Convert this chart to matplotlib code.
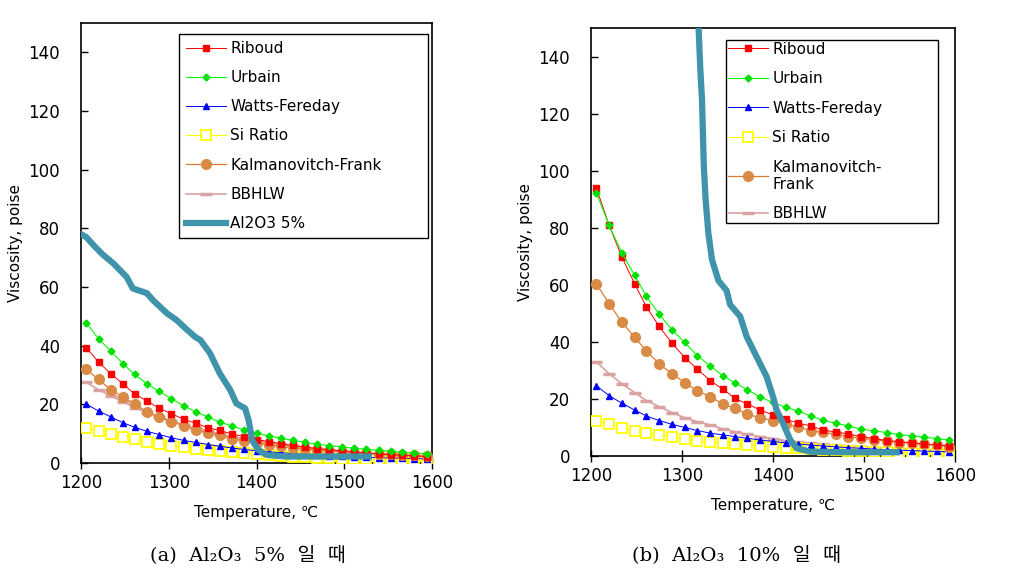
import numpy as np
import matplotlib
matplotlib.use('Agg')
from matplotlib import pyplot as plt

# temperatures of the model curves (deg C)
temps = [1206, 1220, 1234, 1248, 1261, 1275, 1289, 1303, 1317, 1331, 1345, 1358, 1372, 1386, 1400,
         1414, 1428, 1442, 1455, 1469, 1483, 1497, 1511, 1525, 1539, 1553, 1566, 1580, 1594]

# (a) Al2O3 5%
riboud_a = [39.3, 34.4, 30.4, 26.9, 23.5, 21.2, 18.7, 16.8, 14.9, 13.5, 12.0, 11.1, 9.9, 9.0, 8.0,
            7.3, 6.6, 6.0, 5.4, 4.9, 4.5, 4.1, 3.7, 3.4, 3.1, 2.8, 2.6, 2.4, 2.2]
urbain_a = [47.8, 42.3, 38.1, 33.8, 30.2, 27.0, 24.4, 21.9, 19.5, 17.4, 15.6, 14.0, 12.6, 11.3, 10.2,
            9.2, 8.4, 7.7, 7.0, 6.4, 5.9, 5.5, 5.0, 4.7, 4.3, 4.0, 3.7, 3.4, 3.1]
watts_a = [20.1, 17.7, 15.7, 13.7, 12.2, 10.8, 9.7, 8.6, 7.7, 7.0, 6.3, 5.7, 5.1, 4.6, 4.2,
           3.8, 3.5, 3.2, 2.9, 2.7, 2.5, 2.3, 2.1, 1.9, 1.8, 1.7, 1.6, 1.5, 1.4]
si_a = [12.0, 10.9, 9.9, 9.0, 8.1, 7.2, 6.5, 5.9, 5.3, 4.9, 4.4, 4.0, 3.6, 3.3, 3.0,
        2.7, 2.5, 2.2, 2.0, 1.8, 1.6, 1.5, 1.3, 1.2, 1.1, 1.0, 0.9, 0.8, 0.7]
kalman_a = [31.9, 28.5, 24.9, 22.6, 20.1, 17.5, 15.6, 14.1, 12.7, 11.2, 10.2, 9.4, 8.3, 7.5, 6.8,
            6.2, 5.7, 5.2, 4.8, 4.4, 4.1, 3.8, 3.5, 3.3, 3.1, 2.9, 2.7, 2.6, 2.5]
bbhlw_a = [27.5, 25.0, 22.8, 20.8, 18.9, 17.2, 15.7, 14.3, 13.0, 11.9, 10.8, 9.9, 9.0, 8.2, 7.5,
           6.9, 6.3, 5.7, 5.2, 4.8, 4.4, 4.0, 3.7, 3.4, 3.1, 2.8, 2.6, 2.4, 2.2]
meas_t_a = [1200, 1206, 1215, 1225, 1237, 1252, 1259, 1275, 1282, 1298, 1309, 1319, 1330, 1336, 1347,
            1358, 1370, 1377, 1387, 1391, 1395, 1402, 1412, 1434, 1480, 1528]
meas_v_a = [78.0, 77.0, 74.0, 71.0, 68.0, 63.4, 59.5, 57.9, 55.5, 51.0, 48.7, 45.9, 43.0, 41.9, 37.4,
            30.6, 24.9, 20.3, 18.6, 14.6, 7.8, 4.4, 2.7, 2.2, 2.2, 2.2]

# (b) Al2O3 10%
riboud_b = [93.9, 80.8, 69.7, 60.3, 52.2, 45.4, 39.5, 34.5, 30.4, 26.4, 23.4, 20.2, 18.2, 16.1, 14.4,
            12.9, 11.5, 10.5, 9.1, 8.4, 7.7, 6.8, 6.1, 5.4, 5.0, 4.6, 4.2, 3.9, 3.6]
urbain_b = [92.2, 80.8, 71.1, 63.3, 55.9, 49.7, 44.2, 39.8, 35.1, 31.6, 28.1, 25.7, 23.2, 20.6, 18.8,
            17.1, 15.7, 14.0, 12.5, 11.5, 10.5, 9.4, 8.8, 8.2, 7.5, 7.0, 6.6, 6.1, 5.6]
watts_b = [24.6, 21.1, 18.5, 16.1, 14.0, 12.4, 11.1, 10.0, 8.9, 8.0, 7.4, 6.8, 6.2, 5.6, 5.1,
           4.6, 4.2, 3.8, 3.5, 3.2, 2.9, 2.7, 2.4, 2.2, 2.0, 1.9, 1.7, 1.6, 1.4]
si_b = [12.4, 11.2, 9.9, 8.9, 8.2, 7.3, 6.8, 6.1, 5.3, 4.8, 4.4, 4.1, 3.9, 3.5, 3.3,
        2.9, 2.7, 2.4, 2.2, 2.0, 1.8, 1.6, 1.4, 1.3, 1.2, 1.0, 0.9, 0.8, 0.7]
kalman_b = [60.4, 53.3, 46.9, 41.6, 36.8, 32.3, 28.8, 25.7, 22.8, 20.8, 18.2, 16.7, 14.6, 13.4, 12.4,
            11.2, 10.1, 8.9, 8.3, 7.6, 6.8, 6.2, 5.7, 5.2, 4.7, 4.4, 4.1, 3.8, 3.3]
bbhlw_b = [33.0, 28.8, 25.3, 22.2, 19.4, 17.3, 15.2, 13.4, 12.0, 10.9, 9.5, 8.5, 7.6, 6.8, 6.1,
           5.4, 4.9, 4.5, 4.1, 3.8, 3.5, 3.2, 2.9, 2.7, 2.5, 2.3, 2.1, 2.0, 1.8]
meas_t_b = [1318, 1320, 1322, 1323, 1324, 1326, 1329, 1333, 1340, 1349, 1353, 1364, 1371, 1382, 1393,
            1400, 1404, 1411, 1419, 1426, 1441, 1490, 1536]
meas_v_b = [152, 136.6, 124.9, 113.2, 101.5, 89.8, 78.1, 68.8, 61.5, 58.0, 53.0, 48.9, 41.9, 34.8, 27.8,
            20.8, 16.1, 11.5, 5.6, 2.7, 1.5, 1.3, 1.3]

xticks = [1200, 1300, 1400, 1500, 1600]
yticks = [0, 20, 40, 60, 80, 100, 120, 140]


def draw(ax, rib, urb, wat, si, kal, bbh, mt, mv, meas_label, kal_label):
    ax.plot(temps, bbh, color='#d9a3a3', lw=1.2, marker='_', ms=8, mew=2.5, label='BBHLW', zorder=2)
    ax.plot(temps, si, color='#ffff00', lw=0.8, marker='s', ms=6.5, mfc='white', mec='#ffff00',
            mew=1.3, label='Si Ratio', zorder=3)
    ax.plot(temps, wat, color='#0000ff', lw=0.7, marker='^', ms=4.5, label='Watts-Fereday', zorder=3)
    ax.plot(temps, kal, color='#e07a30', lw=0.9, marker='o', ms=7, mfc='#d98b45', mec='#d98b45',
            label=kal_label, zorder=4)
    ax.plot(temps, rib, color='#ff0000', lw=0.7, marker='s', ms=5, label='Riboud', zorder=5)
    ax.plot(temps, urb, color='#00ff00', lw=0.8, marker='D', ms=3.5, mfc='#00e000', mec='#00e000',
            label='Urbain', zorder=5)
    if meas_label:
        ax.plot(mt, mv, color='#3f93ab', lw=4.5, solid_joinstyle='round', label=meas_label, zorder=6)
    else:
        ax.plot(mt, mv, color='#3f93ab', lw=4.5, solid_joinstyle='round', zorder=6)
    ax.set_xlim(1200, 1600)
    ax.set_ylim(0, 150)
    ax.set_xticks(xticks)
    ax.set_yticks(yticks)
    ax.tick_params(axis='x', direction='inout', length=8, width=1, pad=4, labelsize=12)
    ax.tick_params(axis='y', direction='in', length=5, width=1, pad=15, labelsize=12)
    for s in ax.spines.values():
        s.set_linewidth(1.2)
    ax.set_xlabel('Temperature, ℃', fontsize=11, labelpad=9)
    ax.set_ylabel('Viscosity, poise', fontsize=11, labelpad=4)


fig = plt.figure(figsize=(10.13, 5.75), dpi=100)
ax1 = fig.add_axes([0.080, 0.1948, 0.3465, 0.7652])
ax2 = fig.add_axes([0.5834, 0.2070, 0.3593, 0.7443])

draw(ax1, riboud_a, urbain_a, watts_a, si_a, kalman_a, bbhlw_a, meas_t_a, meas_v_a,
     'Al2O3 5%', 'Kalmanovitch-Frank')
draw(ax2, riboud_b, urbain_b, watts_b, si_b, kalman_b, bbhlw_b, meas_t_b, meas_v_b,
     None, 'Kalmanovitch-\nFrank')

order_a = ['Riboud', 'Urbain', 'Watts-Fereday', 'Si Ratio', 'Kalmanovitch-Frank', 'BBHLW', 'Al2O3 5%']
h, l = ax1.get_legend_handles_labels()
hd = dict(zip(l, h))
ax1.legend([hd[k] for k in order_a], order_a, loc='upper left', bbox_to_anchor=(0.279, 0.509, 0.71, 0.466),
           mode='expand', fontsize=11, frameon=True, fancybox=False, edgecolor='black', framealpha=1,
           labelspacing=0.93, handlelength=2.6, handletextpad=0.3, borderpad=0.45, borderaxespad=0)

order_b = ['Riboud', 'Urbain', 'Watts-Fereday', 'Si Ratio', 'Kalmanovitch-\nFrank', 'BBHLW']
h, l = ax2.get_legend_handles_labels()
hd = dict(zip(l, h))
ax2.legend([hd[k] for k in order_b], order_b, loc='upper left', bbox_to_anchor=(0.372, 0.521, 0.581, 0.451),
           mode='expand', fontsize=11, frameon=True, fancybox=False, edgecolor='black', framealpha=1,
           labelspacing=0.95, handlelength=2.6, handletextpad=0.3, borderpad=0.1, borderaxespad=0)

cap_fam = ['DejaVu Serif', 'Noto Sans CJK KR']
fig.text(248 / 1013, 1 - 555 / 575, '(a)  Al₂O₃  5%  일  때', family=cap_fam, fontsize=14,
         ha='center', va='center')
fig.text(736 / 1013, 1 - 555 / 575, '(b)  Al₂O₃  10%  일  때', family=cap_fam, fontsize=14,
         ha='center', va='center')

fig.savefig('out.png', dpi=100)
